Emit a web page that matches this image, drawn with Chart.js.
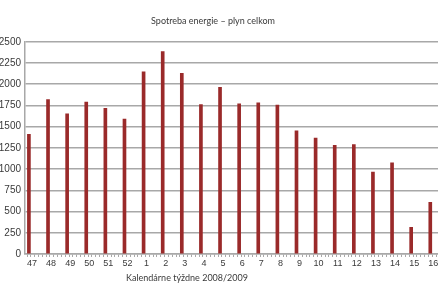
<!DOCTYPE html>
<html>
<head>
<meta charset="utf-8">
<script src="https://cdn.jsdelivr.net/npm/chart.js@4"></script>
<style>
  html, body { margin: 0; padding: 0; background: #fff; overflow: hidden; }
  #wrap { position: absolute; left: -30px; top: 0; width: 486px; height: 292px; }
</style>
</head>
<body>
<div id="wrap"><canvas id="gasChart" width="486" height="292"></canvas></div>
<script>
// calendar weeks 2008/2009
const weeks = ['47', '48', '49', '50', '51', '52', '1', '2', '3', '4', '5', '6', '7', '8', '9', '10', '11', '12', '13', '14', '15', '16'];
// gas consumption per week
const gas = [1410, 1820, 1650, 1790, 1715, 1590, 2145, 2385, 2130, 1760, 1965, 1770, 1780, 1755, 1450, 1365, 1280, 1290, 965, 1075, 315, 610];
const yTicks = [0, 250, 500, 750, 1000, 1250, 1500, 1750, 2000, 2250, 2500];

const axisColor = '#a8a8a8';
const textColor = '#3a3a3a';

// x axis caption (placed off-center like in the original)
const caption = {
    id: 'caption',
    afterDraw(chart) {
        const ctx = chart.ctx;
        ctx.save();
        ctx.font = '9px Lato';
        ctx.fillStyle = textColor;
        ctx.textAlign = 'center';
        ctx.textBaseline = 'middle';
        ctx.fillText('Kalendárne týždne 2008/2009', 217, 278);
        ctx.restore();
    }
};

const ctx = document.getElementById('gasChart');

new Chart(ctx, {
    type: 'bar',
    data: {
        datasets: [{
            data: gas.map((v, i) => ({ x: i, y: v })),
            backgroundColor: '#9a2a2a',
            borderWidth: 0,
            barThickness: 3
        }]
    },
    options: {
        responsive: false,
        animation: false,
        layout: { padding: 0 },
        plugins: {
            legend: { display: false },
            tooltip: { enabled: false },
            title: {
                display: true,
                text: 'Spotreba energie – plyn celkom',
                color: textColor,
                font: { family: 'Lato', size: 9, weight: 'normal' },
                padding: { top: 16, bottom: 15 }
            }
        },
        scales: {
            x: {
                type: 'linear',
                min: -0.104,
                max: 22.245,
                afterBuildTicks: (scale) => {
                    const t = [];
                    for (let k = 0; k <= 111; k++) t.push({ value: k / 5 });
                    scale.ticks = t;
                },
                afterFit: (scale) => { scale.height = 38; scale.paddingLeft = 0; scale.paddingRight = 0; },
                grid: {
                    drawOnChartArea: false,
                    color: axisColor,
                    tickLength: 3
                },
                border: { color: axisColor, width: 1.5 },
                ticks: {
                    autoSkip: false,
                    maxRotation: 0,
                    padding: 1,
                    labelOffset: 3,
                    color: textColor,
                    font: { family: 'Liberation Sans', size: 9 },
                    callback: (v) => {
                        const i = Math.round(v);
                        return Math.abs(v - i) < 1e-6 && weeks[i] !== undefined ? weeks[i] : '';
                    }
                }
            },
            y: {
                min: 0,
                max: 2500,
                afterBuildTicks: (scale) => { scale.ticks = yTicks.map(v => ({ value: v })); },
                afterFit: (scale) => { scale.width = 55; },
                grid: {
                    color: axisColor,
                    lineWidth: 1.5,
                    drawTicks: false
                },
                border: { color: axisColor, width: 1.5 },
                ticks: {
                    padding: 4,
                    color: textColor,
                    font: { family: 'Liberation Sans', size: 10 },
                    callback: (v) => String(v)
                }
            }
        }
    },
    plugins: [caption]
});
</script>
</body>
</html>
